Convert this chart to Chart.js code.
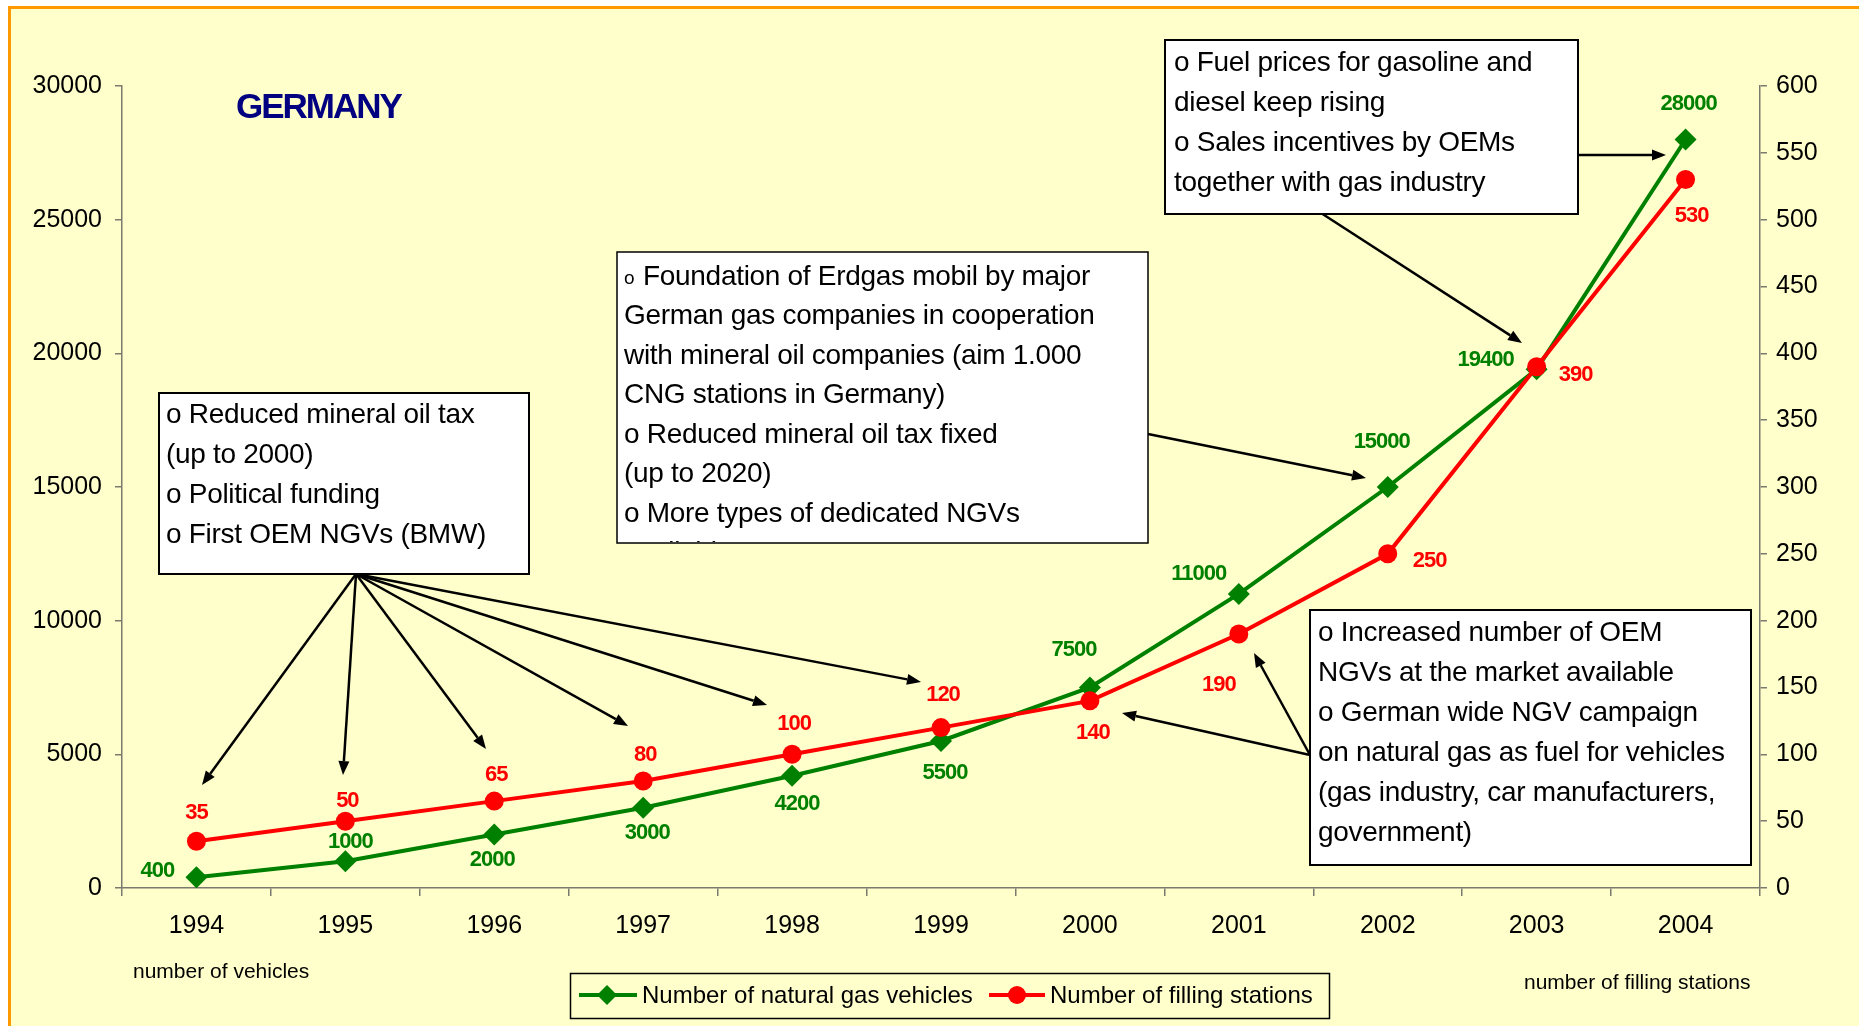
<!DOCTYPE html>
<html><head><meta charset="utf-8">
<script src="https://cdn.jsdelivr.net/npm/chart.js@4/dist/chart.umd.min.js"></script>
<style>html,body{margin:0;padding:0;background:#fff;overflow:hidden}#wrap{position:relative;width:1859px;height:1026px}canvas{display:block}</style>
</head><body><div id="wrap"><canvas id="c" width="1859" height="1026"></canvas></div>
<script>
// ---- data ----
const years = ['1994','1995','1996','1997','1998','1999','2000','2001','2002','2003','2004'];
const vehicles = [400, 1000, 2000, 3000, 4200, 5500, 7500, 11000, 15000, 19400, 28000];
const stations = [35, 50, 65, 80, 100, 120, 140, 190, 250, 390, 530];
const seriesNames = ['Number of natural gas vehicles', 'Number of filling stations'];
const chartTitle = 'GERMANY';
const leftAxisNote = 'number of vehicles';
const rightAxisNote = 'number of filling stations';
const leftMax = 30000, leftStep = 5000;
const rightMax = 600, rightStep = 50;

const box1Lines = ['o Reduced mineral oil tax', '(up to 2000)', 'o Political funding', 'o First OEM NGVs (BMW)'];
const box2Lines = ['Foundation of Erdgas mobil by major', 'German gas companies in cooperation', 'with mineral oil companies (aim 1.000', 'CNG stations in Germany)', 'o Reduced mineral oil tax fixed', '(up to 2020)', 'o More types of dedicated NGVs', 'available'];
const box3Lines = ['o Fuel prices for gasoline and', 'diesel keep rising', 'o Sales incentives by OEMs', 'together with gas industry'];
const box4Lines = ['o Increased number of OEM', 'NGVs at the market available', 'o German wide NGV campaign', 'on natural gas as fuel for vehicles', '(gas industry, car manufacturers,', 'government)'];

// ---- style ----
const GREEN = '#008000', RED = '#FF0000', AXIS = '#7a7a6e';
const FONT = "'Liberation Sans', Arial, sans-serif";
// label offsets (dx, dy) relative to each point
const greenOff = [[-39,-6],[5,-19],[-2,25],[4,25],[5,28],[4,32],[-16,-38],[-40,-20],[-6,-45],[-51,-9],[3,-36]];
const redOff = [[0,-28],[2,-20],[2,-26],[2,-26],[2,-30],[2,-33],[3,32],[-20,51],[42,7],[39,8],[6,36]];

function arrow(ctx, x1, y1, x2, y2) {
  const a = Math.atan2(y2 - y1, x2 - x1), L = 14, W = 5.5;
  const bx = x2 - Math.cos(a) * L, by = y2 - Math.sin(a) * L;
  ctx.beginPath(); ctx.moveTo(x1, y1); ctx.lineTo(bx, by); ctx.stroke();
  ctx.beginPath(); ctx.moveTo(x2, y2);
  ctx.lineTo(bx + Math.sin(a) * W, by - Math.cos(a) * W);
  ctx.lineTo(bx - Math.sin(a) * W, by + Math.cos(a) * W);
  ctx.closePath(); ctx.fill();
}
function box(ctx, x, y, w, h, lw) {
  ctx.fillStyle = '#fff'; ctx.fillRect(x, y, w, h);
  ctx.strokeStyle = '#000'; ctx.lineWidth = lw || 2; ctx.strokeRect(x, y, w, h);
}
function lines(ctx, arr, x, y0, lh) {
  ctx.fillStyle = '#000'; ctx.font = '28px ' + FONT; ctx.textAlign = 'left'; ctx.textBaseline = 'middle';
  ctx.letterSpacing = '-0.3px';
  arr.forEach((t, i) => ctx.fillText(t, x, y0 + i * lh));
  ctx.letterSpacing = '0px';
}

const bgPlugin = {
  id: 'bg',
  beforeDraw(chart) {
    const ctx = chart.ctx;
    ctx.save();
    ctx.fillStyle = '#fff'; ctx.fillRect(0, 0, 1859, 1026);
    ctx.fillStyle = '#FFFFCC'; ctx.fillRect(9, 7, 1850, 1019);
    ctx.strokeStyle = '#FF9900'; ctx.lineWidth = 3;
    ctx.beginPath(); ctx.moveTo(9.5, 1026); ctx.lineTo(9.5, 7.5); ctx.lineTo(1859, 7.5); ctx.stroke();
    ctx.restore();
  }
};

const overlayPlugin = {
  id: 'overlay',
  afterDraw(chart) {
    const ctx = chart.ctx;
    ctx.save();
    // title
    ctx.fillStyle = '#000080'; ctx.font = 'bold 35px ' + FONT; ctx.textBaseline = 'middle'; ctx.textAlign = 'left';
    ctx.letterSpacing = '-2px';
    ctx.fillText(chartTitle, 236, 108);
    ctx.letterSpacing = '0px';
    // axis notes
    ctx.fillStyle = '#000'; ctx.font = '21px ' + FONT;
    ctx.fillText(leftAxisNote, 133, 972);
    ctx.fillText(rightAxisNote, 1524, 983);

    // arrows
    ctx.strokeStyle = '#000'; ctx.fillStyle = '#000'; ctx.lineWidth = 2.5;
    const o1 = [356, 574];
    [[202,785],[343,775],[486,749],[628,726],[767,705],[921,682]].forEach(p => arrow(ctx, o1[0], o1[1], p[0], p[1]));
    arrow(ctx, 1148, 434, 1366, 478);
    arrow(ctx, 1578, 155, 1666, 155);
    arrow(ctx, 1321, 213, 1522, 343);
    arrow(ctx, 1310, 755, 1122, 713);
    arrow(ctx, 1310, 755, 1254, 653);

    // box1
    box(ctx, 159, 393, 370, 181);
    lines(ctx, box1Lines, 166, 415, 40);
    // box2 (clipped last line)
    box(ctx, 617, 252, 531, 291, 1.5);
    ctx.save();
    ctx.beginPath(); ctx.rect(618, 253, 529, 289); ctx.clip();
    ctx.fillStyle = '#000'; ctx.font = '19px ' + FONT; ctx.textBaseline = 'middle';
    ctx.fillText('o', 624, 279);
    lines(ctx, box2Lines.slice(0, 1), 643, 277, 39.5);
    lines(ctx, box2Lines.slice(1), 624, 316.5, 39.5);
    ctx.restore();
    // box3
    box(ctx, 1165, 40, 413, 174);
    lines(ctx, box3Lines, 1174, 63, 40);
    // box4
    box(ctx, 1310, 610, 441, 255);
    lines(ctx, box4Lines, 1318, 633, 40);

    // legend
    ctx.strokeStyle = '#000'; ctx.lineWidth = 1.5;
    ctx.strokeRect(570.5, 973.5, 759, 45);
    ctx.lineWidth = 4;
    ctx.strokeStyle = GREEN; ctx.beginPath(); ctx.moveTo(579, 995); ctx.lineTo(637, 995); ctx.stroke();
    ctx.fillStyle = GREEN; ctx.beginPath(); ctx.moveTo(607, 985); ctx.lineTo(617, 995); ctx.lineTo(607, 1005); ctx.lineTo(597, 995); ctx.closePath(); ctx.fill();
    ctx.strokeStyle = RED; ctx.beginPath(); ctx.moveTo(989, 995); ctx.lineTo(1045, 995); ctx.stroke();
    ctx.fillStyle = RED; ctx.beginPath(); ctx.arc(1017, 995, 9, 0, Math.PI * 2); ctx.fill();
    ctx.fillStyle = '#000'; ctx.font = '24px ' + FONT; ctx.textBaseline = 'middle'; ctx.textAlign = 'left';
    ctx.fillText(seriesNames[0], 642, 996);
    ctx.fillText(seriesNames[1], 1050, 996);
    ctx.restore();
  },
  afterDatasetsDraw(chart) {
    const ctx = chart.ctx;
    ctx.save();
    ctx.font = 'bold 22px ' + FONT; ctx.textAlign = 'center'; ctx.textBaseline = 'middle';
    ctx.letterSpacing = '-1px';
    const m0 = chart.getDatasetMeta(0), m1 = chart.getDatasetMeta(1);
    ctx.fillStyle = GREEN;
    m0.data.forEach((p, i) => ctx.fillText(String(vehicles[i]), p.x + greenOff[i][0], p.y + greenOff[i][1]));
    ctx.fillStyle = RED;
    m1.data.forEach((p, i) => ctx.fillText(String(stations[i]), p.x + redOff[i][0], p.y + redOff[i][1]));
    ctx.restore();
  }
};

new Chart(document.getElementById('c'), {
  type: 'line',
  data: {
    labels: years,
    datasets: [
      { label: seriesNames[0], data: vehicles, yAxisID: 'y', order: 1, borderColor: GREEN, backgroundColor: GREEN,
        borderWidth: 4, pointStyle: 'rectRot', pointRadius: 11, pointBorderWidth: 0, tension: 0, fill: false },
      { label: seriesNames[1], data: stations, yAxisID: 'y1', order: 0, borderColor: RED, backgroundColor: RED,
        borderWidth: 4, pointStyle: 'circle', pointRadius: 9.5, pointBorderWidth: 0, tension: 0, fill: false }
    ]
  },
  options: {
    responsive: false, devicePixelRatio: 1, animation: false,
    layout: { padding: { top: 86, left: 0, right: 0, bottom: 0 } },
    plugins: { legend: { display: false }, title: { display: false }, tooltip: { enabled: false } },
    scales: {
      x: {
        offset: true,
        grid: { offset: true, drawOnChartArea: false, drawTicks: true, tickLength: 8, color: AXIS, lineWidth: 1.5 },
        border: { color: AXIS, width: 1.5 },
        ticks: { color: '#000', font: { family: FONT, size: 25 }, padding: 15, maxRotation: 0 },
        afterFit: s => { s.height = 138; }
      },
      y: {
        position: 'left', min: 0, max: leftMax,
        grid: { drawOnChartArea: false, tickLength: 7, color: AXIS, lineWidth: 1.5 },
        border: { color: AXIS, width: 1.5 },
        ticks: { stepSize: leftStep, color: '#000', font: { family: FONT, size: 25 }, padding: 13, callback: v => String(v) },
        afterFit: s => { s.width = 122; }
      },
      y1: {
        position: 'right', min: 0, max: rightMax,
        grid: { drawOnChartArea: false, tickLength: 7, color: AXIS, lineWidth: 1.5 },
        border: { color: AXIS, width: 1.5 },
        ticks: { stepSize: rightStep, color: '#000', font: { family: FONT, size: 25 }, padding: 9, callback: v => String(v) },
        afterFit: s => { s.width = 99; }
      }
    }
  },
  plugins: [bgPlugin, overlayPlugin]
});
</script></body></html>
